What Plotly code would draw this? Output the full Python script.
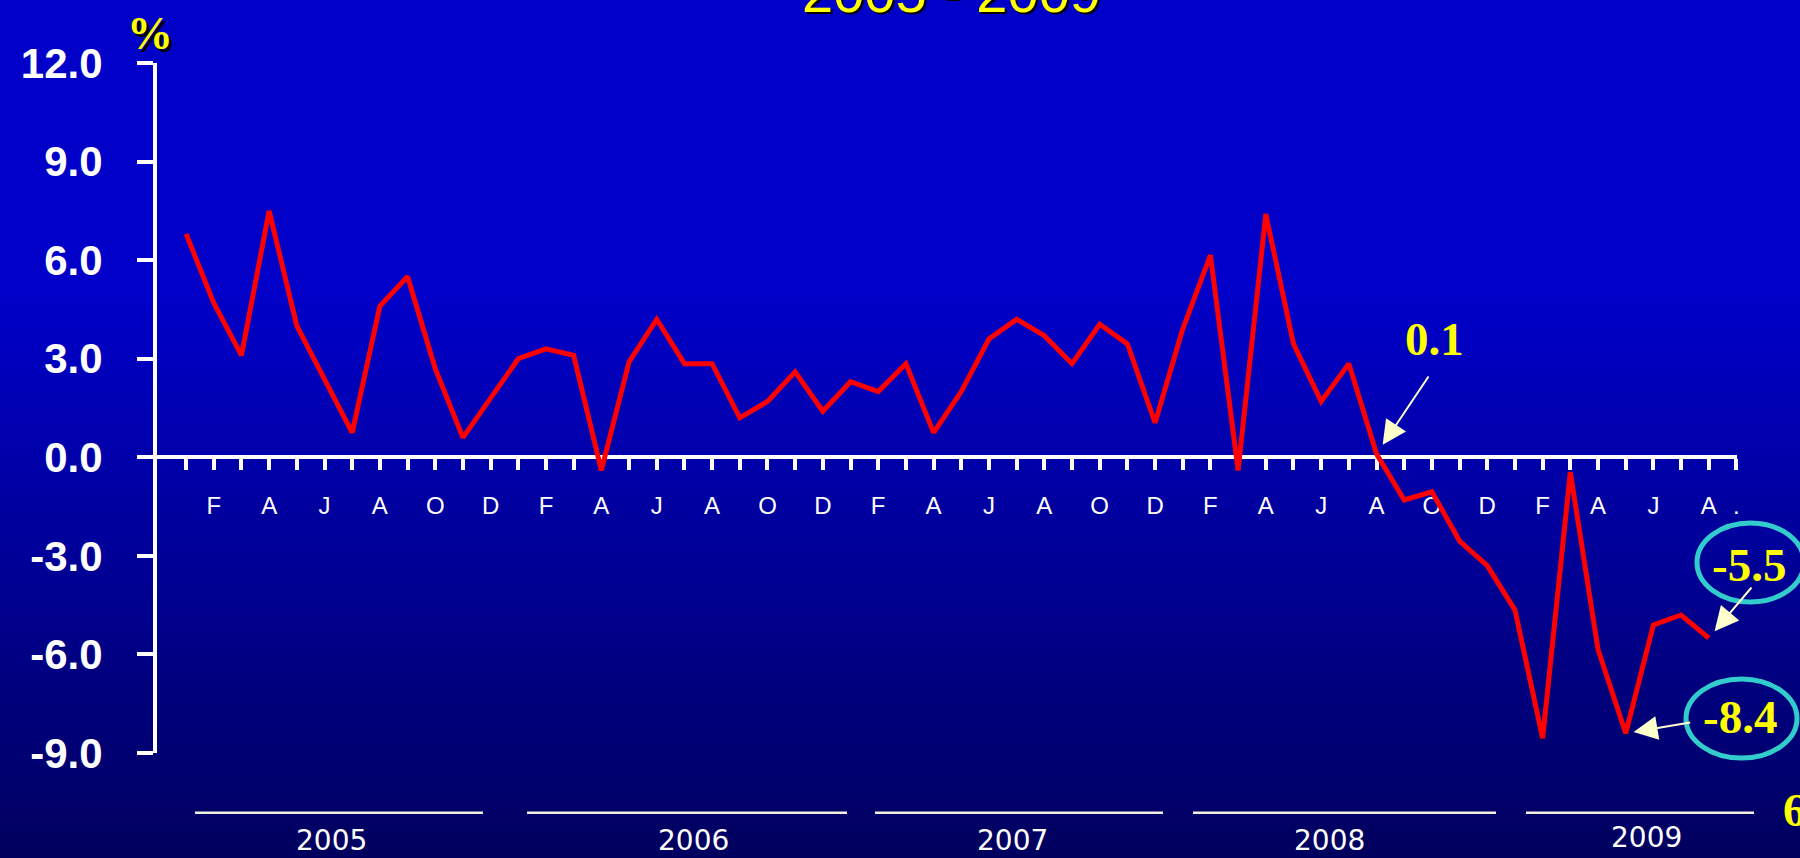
import plotly.graph_objects as go

# ---------------- data ----------------
years = [2005, 2006, 2007, 2008, 2009]
v2005 = [6.8, 4.7, 3.1, 7.5, 4.0, 2.4, 0.75, 4.6, 5.5, 2.7, 0.6, 1.8]
v2006 = [3.0, 3.3, 3.1, -0.4, 2.9, 4.2, 2.85, 2.85, 1.2, 1.7, 2.6, 1.4]
v2007 = [2.3, 2.0, 2.85, 0.75, 2.0, 3.6, 4.2, 3.7, 2.85, 4.05, 3.45, 1.05]
v2008 = [3.9, 6.15, -0.4, 7.4, 3.45, 1.7, 2.85, 0.1, -1.3, -1.05, -2.55, -3.3]
v2009 = [-4.65, -8.55, -0.45, -5.85, -8.4, -5.1, -4.8, -5.5]
month_letters = ["", "F", "", "A", "", "J", "", "A", "", "O", "", "D"]
end_label = "."
y_ticks = [-9, -6, -3, 0, 3, 6, 9, 12]
callout_index = [43, 52, 55]
callout_text = ["0.1", "-8.4", "-5.5"]
title_text = "2005 - 2009"
unit_text = "%"
page_text = "6"

values = v2005 + v2006 + v2007 + v2008 + v2009
x_idx = list(range(len(values)))
tick_vals = list(range(len(values) + 1))
tick_text = [month_letters[i % 12] for i in range(len(values))] + [end_label]

# ---------------- layout geometry (pixels) ----------------
W, H = 1800, 858
L, R, T, B = 157, 1737, 63, 753


def fx(px):
    return (px - L) / (R - L)


def fy(py):
    return (B - py) / (B - T)


YELLOW = "#FFFF00"
CREAM = "#FFFFCC"
TEAL = "#33CCCC"
SERIF = "Liberation Serif, Times New Roman, serif"
SANS = "Liberation Sans, Arial, sans-serif"

fig = go.Figure()
fig.add_trace(go.Scatter(
    x=x_idx, y=values, mode="lines",
    line=dict(color="#FF0000", width=5),
    hoverinfo="skip", showlegend=False,
))

shapes = []
# background gradient
n = 86
for i in range(n):
    y0 = i * H / n
    y1 = (i + 1) * H / n
    ym = (y0 + y1) / 2
    b = 200 if ym < 300 else 200 - (ym - 300) * 0.19
    shapes.append(dict(type="rect", xref="paper", yref="paper",
                       x0=fx(-5), x1=fx(W + 5), y0=fy(y1 + 0.6), y1=fy(y0 - 0.6),
                       fillcolor=f"rgb(0,0,{int(round(b))})", line=dict(width=0),
                       layer="below"))

# year brackets (style positions in px)
year_bracket_px = [(195, 483), (527, 847), (875, 1163), (1193, 1496), (1526, 1754)]
year_text_px = [331, 693, 1012, 1329, 1646]
year_text_y = [840, 840, 840, 840, 837]
annotations = []
for yr, (a, bpx), tx, ty in zip(years, year_bracket_px, year_text_px, year_text_y):
    shapes.append(dict(type="line", xref="paper", yref="paper",
                       x0=fx(a), x1=fx(bpx), y0=fy(812.7), y1=fy(812.7),
                       line=dict(color="#F2F0E0", width=2.5), layer="above"))
    annotations.append(dict(xref="paper", yref="paper", x=fx(tx), y=fy(ty),
                            text=str(yr), showarrow=False, xanchor="center", yanchor="middle",
                            font=dict(family="DejaVu Sans, Arial", size=28, color="white")))

# callout ellipses
shapes.append(dict(type="circle", xref="paper", yref="paper",
                   x0=fx(1697), x1=fx(1804), y0=fy(602), y1=fy(523),
                   line=dict(color=TEAL, width=5), layer="above"))
shapes.append(dict(type="circle", xref="paper", yref="paper",
                   x0=fx(1686), x1=fx(1797), y0=fy(758), y1=fy(679),
                   line=dict(color=TEAL, width=5), layer="above"))

# callout arrows (pointing to data points)
arrow_style = {43: (53, -79, 11), 52: (66, -11, 8), 55: (44, -52, 9)}
for idx in callout_index:
    ax, ay, so = arrow_style[idx]
    annotations.append(dict(xref="x", yref="y", x=idx, y=values[idx], text="",
                            showarrow=True, arrowhead=2, arrowsize=2.4, arrowwidth=2,
                            arrowcolor=CREAM, ax=ax, ay=ay, standoff=so))

# callout texts
callout_pos_px = {"0.1": (1434, 339), "-8.4": (1740, 717), "-5.5": (1749, 565)}
for t in callout_text:
    px, py = callout_pos_px[t]
    annotations.append(dict(xref="paper", yref="paper", x=fx(px), y=fy(py), text=t,
                            showarrow=False, xanchor="center", yanchor="middle",
                            font=dict(family=SERIF, size=47, color=YELLOW, weight="bold")))

# title (cut off at the top), with shadow
annotations.append(dict(xref="paper", yref="paper", x=fx(951), y=fy(-8),
                        text=title_text, showarrow=False, xanchor="center", yanchor="middle",
                        font=dict(family=SANS, size=56, color=YELLOW,
                                  shadow="2px 2px 0px black")))
# % unit with shadow
annotations.append(dict(xref="paper", yref="paper", x=fx(150), y=fy(34),
                        text=unit_text, showarrow=False, xanchor="center", yanchor="middle",
                        font=dict(family=SERIF, size=46, color=YELLOW, weight="bold",
                                  shadow="3px 3px 0px black")))
# page number, cut at right edge
annotations.append(dict(xref="paper", yref="paper", x=fx(1781), y=fy(810),
                        text=page_text, showarrow=False, xanchor="left", yanchor="middle",
                        font=dict(family=SERIF, size=46, color=YELLOW, weight="bold")))

fig.update_layout(
    width=W, height=H,
    margin=dict(l=L, r=W - R, t=T, b=H - B, pad=0),
    paper_bgcolor="rgb(0,0,200)",
    plot_bgcolor="rgba(0,0,0,0)",
    showlegend=False,
    shapes=shapes,
    annotations=annotations,
    xaxis=dict(
        range=[-1.05, 56.02], tickmode="array", tickvals=tick_vals, ticktext=tick_text,
        ticks="outside", ticklen=11, tickwidth=4, tickcolor="white",
        showline=True, linewidth=4, linecolor="white",
        anchor="free", position=9 / 21,
        showgrid=False, zeroline=False, layer="below traces",
        tickfont=dict(family=SANS, size=24, color="white"),
        ticklabelstandoff=15,
    ),
    yaxis=dict(
        range=[-9, 12], tickmode="array", tickvals=y_ticks,
        ticktext=[f"{v:.1f}" for v in y_ticks],
        ticks="outside", ticklen=16, tickwidth=4, tickcolor="white",
        showline=True, linewidth=4, linecolor="white",
        showgrid=False, zeroline=False, layer="below traces",
        tickfont=dict(family=SANS, size=42, color="white", weight="bold"),
        ticklabelstandoff=26,
    ),
)

fig.write_html(
    "out.html",
    config={"displayModeBar": False},
    post_script="document.body.style.margin='0';document.body.style.overflow='hidden';",
)
